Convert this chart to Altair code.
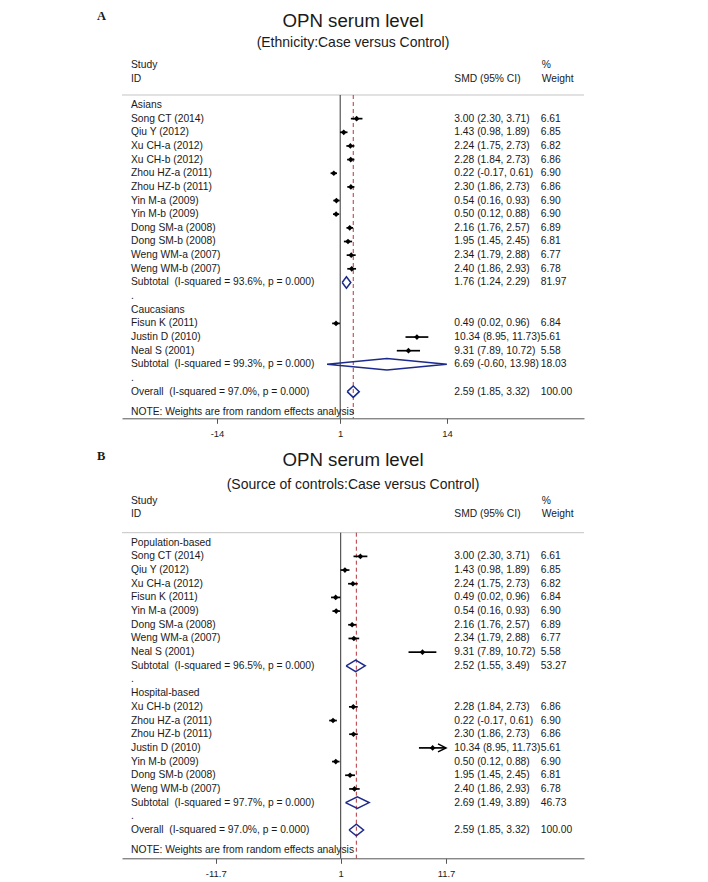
import altair as alt
import pandas as pd
import numpy as np

FONT = "Liberation Sans"
INK = "#1a1a1a"
NAVY = "#1c2a8c"
REDLINE = "#b5343c"
FS = 10.3

# ---------------- Panel A : ethnicity ----------------
A_title = "OPN serum level"
A_subtitle = "(Ethnicity:Case versus Control)"
A_groups = ["Asians", "Caucasians"]
A_studies = [
    ["Song CT (2014)", "Qiu Y (2012)", "Xu CH-a (2012)", "Xu CH-b (2012)",
     "Zhou HZ-a (2011)", "Zhou HZ-b (2011)", "Yin M-a (2009)", "Yin M-b (2009)",
     "Dong SM-a (2008)", "Dong SM-b (2008)", "Weng WM-a (2007)", "Weng WM-b (2007)"],
    ["Fisun K (2011)", "Justin D (2010)", "Neal S (2001)"],
]
A_est = [[3.00, 1.43, 2.24, 2.28, 0.22, 2.30, 0.54, 0.50, 2.16, 1.95, 2.34, 2.40],
         [0.49, 10.34, 9.31]]
A_lo = [[2.30, 0.98, 1.75, 1.84, -0.17, 1.86, 0.16, 0.12, 1.76, 1.45, 1.79, 1.86],
        [0.02, 8.95, 7.89]]
A_hi = [[3.71, 1.89, 2.73, 2.73, 0.61, 2.73, 0.93, 0.88, 2.57, 2.45, 2.88, 2.93],
        [0.96, 11.73, 10.72]]
A_wt = [[6.61, 6.85, 6.82, 6.86, 6.90, 6.86, 6.90, 6.90, 6.89, 6.81, 6.77, 6.78],
        [6.84, 5.61, 5.58]]
A_sub_i2 = [93.6, 99.3]
A_sub_est = [1.76, 6.69]
A_sub_lo = [1.24, -0.60]
A_sub_hi = [2.29, 13.98]
A_sub_wt = [81.97, 18.03]
A_ticks = [-14, 1, 14]

# ---------------- Panel B : source of controls ----------------
B_title = "OPN serum level"
B_subtitle = "(Source of controls:Case versus Control)"
B_groups = ["Population-based", "Hospital-based"]
B_studies = [
    ["Song CT (2014)", "Qiu Y (2012)", "Xu CH-a (2012)", "Fisun K (2011)",
     "Yin M-a (2009)", "Dong SM-a (2008)", "Weng WM-a (2007)", "Neal S (2001)"],
    ["Xu CH-b (2012)", "Zhou HZ-a (2011)", "Zhou HZ-b (2011)", "Justin D (2010)",
     "Yin M-b (2009)", "Dong SM-b (2008)", "Weng WM-b (2007)"],
]
B_est = [[3.00, 1.43, 2.24, 0.49, 0.54, 2.16, 2.34, 9.31],
         [2.28, 0.22, 2.30, 10.34, 0.50, 1.95, 2.40]]
B_lo = [[2.30, 0.98, 1.75, 0.02, 0.16, 1.76, 1.79, 7.89],
        [1.84, -0.17, 1.86, 8.95, 0.12, 1.45, 1.86]]
B_hi = [[3.71, 1.89, 2.73, 0.96, 0.93, 2.57, 2.88, 10.72],
        [2.73, 0.61, 2.73, 11.73, 0.88, 2.45, 2.93]]
B_wt = [[6.61, 6.85, 6.82, 6.84, 6.90, 6.89, 6.77, 5.58],
        [6.86, 6.90, 6.86, 5.61, 6.90, 6.81, 6.78]]
B_sub_i2 = [96.5, 97.7]
B_sub_est = [2.52, 2.69]
B_sub_lo = [1.55, 1.49]
B_sub_hi = [3.49, 3.89]
B_sub_wt = [53.27, 46.73]
B_ticks = [-11.7, 1, 11.7]

# overall (same in both panels)
OV_est, OV_lo, OV_hi, OV_wt, OV_i2 = 2.59, 1.85, 3.32, 100.00, 97.0
NOTE = "NOTE: Weights are from random effects analysis"
GAP = "\u00a0 "  # double space as in the original

# ---------------- layout (pixels inside the plot area) ----------------
W, H = 462, 763.3
COL_STUDY, COL_SMD, COL_WT = 9, 332.3, 418.7
DIA_H = 0.42  # half height of diamonds, in rows


def build_tables(groups, studies, est, lo, hi, wt, s_i2, s_est, s_lo, s_hi, s_wt):
    labels, cis, dia = [], [], []
    r = 0
    for g, name in enumerate(groups):
        labels.append((r, name, "", ""))
        r += 1
        for s, e, l, h, w in zip(studies[g], est[g], lo[g], hi[g], wt[g]):
            labels.append((r, s, f"{e:.2f} ({l:.2f}, {h:.2f})", f"{w:.2f}"))
            cis.append((r, e, l, h))
            r += 1
        labels.append((r, f"Subtotal{GAP}(I-squared = {s_i2[g]:.1f}%, p = 0.000)",
                       f"{s_est[g]:.2f} ({s_lo[g]:.2f}, {s_hi[g]:.2f})", f"{s_wt[g]:.2f}"))
        dia.append((f"s{g}", r, s_est[g], s_lo[g], s_hi[g]))
        r += 1
        labels.append((r, ".", "", ""))
        r += 1
    labels.append((r, f"Overall{GAP}(I-squared = {OV_i2:.1f}%, p = 0.000)",
                   f"{OV_est:.2f} ({OV_lo:.2f}, {OV_hi:.2f})", f"{OV_wt:.2f}"))
    dia.append(("ov", r, OV_est, OV_lo, OV_hi))
    labels.append((r + 1.5, NOTE, "", ""))
    lab = pd.DataFrame(labels, columns=["row", "label", "smd", "wt"])
    ci = pd.DataFrame(cis, columns=["row", "est", "lo", "hi"])
    verts = []
    for did, rr, e, l, h in dia:
        pts = [(l, rr), (e, rr - DIA_H), (h, rr), (e, rr + DIA_H), (l, rr)]
        for k, (vx, vy) in enumerate(pts):
            verts.append((did, k, vx, vy))
    dv = pd.DataFrame(verts, columns=["id", "k", "x", "y"])
    return lab, ci, dv


def txt(s, x, y, size=FS, align="left", font=FONT, weight="normal"):
    return alt.Chart(pd.DataFrame({"t": [s]})).mark_text(
        align=align, baseline="middle", fontSize=size, font=font,
        fontWeight=weight, color=INK
    ).encode(x=alt.value(x), y=alt.value(y), text="t:N")


def panel(tables, letter, title, subtitle, ticks, null_px, px_per_unit,
          row0_px, row_step, top_px, axis_px, head_y, clip_hi):
    lab, ci, dv = tables
    xdom = [1 - null_px / px_per_unit, 1 + (W - null_px) / px_per_unit]
    ydom = [-row0_px / row_step, (H - row0_px) / row_step]
    xs = alt.Scale(domain=xdom, nice=False, zero=False)
    ys = alt.Scale(domain=ydom, nice=False, zero=False, reverse=True)
    ax = alt.Axis(orient="bottom", offset=axis_px - H, values=ticks,
                  labelExpr="'' + datum.value", title=None, grid=False,
                  domainColor="#555555", tickColor="#555555", domainWidth=1,
                  tickWidth=1, tickSize=5, labelFontSize=9.5, labelPadding=5,
                  labelFont=FONT, labelColor=INK)

    def X(f):
        return alt.X(f, type="quantitative", scale=xs, axis=ax)

    def Y(f):
        return alt.Y(f, type="quantitative", scale=ys, axis=None)

    ci = ci.copy()
    ci["lo_c"] = np.maximum(ci["lo"], ticks[0])
    ci["hi_c"] = np.minimum(ci["hi"], clip_hi)
    arrows = ci[ci["hi"] > clip_hi]

    refs = pd.DataFrame({"v": [1.0]})
    ovl = pd.DataFrame({"v": [OV_est]})

    layers = [
        alt.Chart(pd.DataFrame({"a": [0]})).mark_rule(color="#c4c4c4", strokeWidth=1).encode(
            x=alt.value(0), x2=alt.value(W), y=alt.value(top_px)),
        alt.Chart(refs).mark_rule(color="#333333", strokeWidth=1).encode(
            x=X("v"), y=alt.value(top_px), y2=alt.value(axis_px)),
        alt.Chart(ovl).mark_rule(color=REDLINE, strokeWidth=1, strokeDash=[4, 3]).encode(
            x=X("v"), y=alt.value(top_px), y2=alt.value(axis_px)),
        alt.Chart(ci).mark_rule(color="black", strokeWidth=1.7).encode(
            x=X("lo_c"), x2="hi_c", y=Y("row")),
        alt.Chart(ci).mark_point(shape="diamond", filled=True, size=32, color="black", opacity=1).encode(
            x=X("est"), y=Y("row")),
        alt.Chart(dv).mark_line(color=NAVY, strokeWidth=1.5).encode(
            x=X("x"), y=Y("y"), detail="id:N", order="k:Q"),
        alt.Chart(lab).mark_text(align="left", baseline="middle", fontSize=FS, font=FONT, color=INK).encode(
            x=alt.value(COL_STUDY), y=Y("row"), text="label:N"),
        alt.Chart(lab).mark_text(align="left", baseline="middle", fontSize=FS, font=FONT, color=INK).encode(
            x=alt.value(COL_SMD), y=Y("row"), text="smd:N"),
        alt.Chart(lab).mark_text(align="left", baseline="middle", fontSize=FS, font=FONT, color=INK).encode(
            x=alt.value(COL_WT), y=Y("row"), text="wt:N"),
    ]
    if len(arrows):
        layers.append(
            alt.Chart(arrows).mark_point(shape="M-2,-1L0,0L-2,1", filled=False, size=64,
                                         strokeWidth=1.5, color="black", opacity=1).encode(
                x=X("hi_c"), y=Y("row")))
    ly, ty, sy, hy1, hy2 = head_y
    layers += [
        txt(letter, -25, ly, size=12.5, font="Liberation Serif", weight="bold"),
        txt(title, W / 2, ty, size=18.7, align="center"),
        txt(subtitle, W / 2, sy, size=14, align="center"),
        txt("Study", COL_STUDY, hy1),
        txt("ID", COL_STUDY, hy2),
        txt("SMD (95% CI)", COL_SMD, hy2),
        txt("%", COL_WT + 1, hy1),
        txt("Weight", COL_WT + 1, hy2),
    ]
    return alt.layer(*layers)


tabA = build_tables(A_groups, A_studies, A_est, A_lo, A_hi, A_wt,
                    A_sub_i2, A_sub_est, A_sub_lo, A_sub_hi, A_sub_wt)
tabB = build_tables(B_groups, B_studies, B_est, B_lo, B_hi, B_wt,
                    B_sub_i2, B_sub_est, B_sub_lo, B_sub_hi, B_sub_wt)

pA = panel(tabA, "A", A_title, A_subtitle, A_ticks, null_px=218.2, px_per_unit=8.214,
           row0_px=10.0, row_step=13.65, top_px=0.0, axis_px=323.3,
           head_y=(-79, -74.3, -52, -30, -16), clip_hi=14)
pB = panel(tabB, "B", B_title, B_subtitle, B_ticks, null_px=218.7, px_per_unit=9.842,
           row0_px=447.7, row_step=13.68, top_px=437.7, axis_px=763.3,
           head_y=(361.5, 365, 390, 405.7, 419.5), clip_hi=11.7)

chart = alt.layer(pA, pB).resolve_scale(x="independent", y="independent").properties(
    width=W, height=H,
    padding={"left": 114, "top": 87, "right": 116, "bottom": 23},
    autosize=alt.AutoSizeParams(type="none"),
    background="white",
).configure_view(stroke=None)

chart.save("out.html", embed_options={"renderer": "svg", "actions": False})
